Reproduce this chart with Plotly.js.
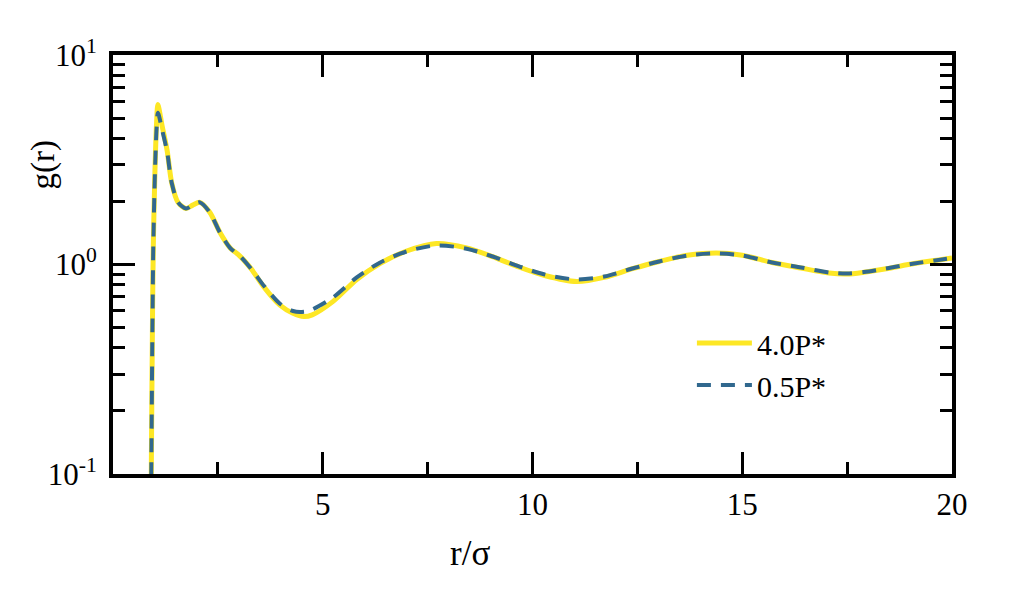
<!DOCTYPE html>
<html>
<head>
<meta charset="utf-8">
<script src="https://cdn.plot.ly/plotly-3.0.1.min.js"></script>
<style>html,body{margin:0;padding:0;background:#fff;}#chart{width:1011px;height:599px;}</style>
</head>
<body>
<div id="chart"></div>
<script>
// r/sigma grid
const r = [0.88, 0.90, 0.92, 0.94, 0.96, 1.0, 1.04, 1.07, 1.17, 1.29, 1.40, 1.55, 1.74, 1.9, 2.07, 2.31, 2.55, 2.79, 3.02, 3.3, 3.6, 3.98, 4.29, 4.55, 4.75, 5.24, 5.81, 6.36, 7.0, 7.71, 8.43, 9.05, 9.69, 10.29, 11.05, 11.71, 12.38, 13.02, 13.69, 14.38, 15.0, 15.71, 16.4, 17.07, 17.5, 17.9, 18.43, 19.1, 19.76, 20];
// g(r) at 4.0P*
const gHigh = [0.02, 0.05, 0.16, 0.5, 1.2, 2.8, 4.8, 5.8, 4.6, 3.5, 2.45, 1.98, 1.85, 1.92, 1.98, 1.77, 1.42, 1.2, 1.1, 0.95, 0.78, 0.64, 0.585, 0.564, 0.575, 0.665, 0.848, 1.01, 1.16, 1.26, 1.2, 1.09, 0.97, 0.886, 0.829, 0.868, 0.955, 1.034, 1.106, 1.135, 1.108, 1.022, 0.962, 0.91, 0.9, 0.918, 0.955, 1.01, 1.057, 1.075];
// g(r) at 0.5P*
const gLow = [0.02, 0.05, 0.16, 0.5, 1.2, 2.75, 4.5, 5.3, 4.4, 3.45, 2.45, 1.98, 1.85, 1.92, 1.98, 1.77, 1.42, 1.2, 1.1, 0.95, 0.79, 0.65, 0.6, 0.595, 0.61, 0.695, 0.867, 1.02, 1.154, 1.233, 1.19, 1.092, 0.978, 0.896, 0.848, 0.876, 0.957, 1.034, 1.104, 1.129, 1.104, 1.022, 0.968, 0.916, 0.905, 0.92, 0.957, 1.011, 1.057, 1.075];
const seriesNames = ["4.0P*", "0.5P*"];
const xTickVals = [5, 10, 15, 20];
const yTickVals = [0.1, 1, 10];
const yTickText = ["10<sup>-1</sup>", "10<sup>0</sup>", "10<sup>1</sup>"];

const font = "Liberation Serif";
const traces = [
  {x: r, y: gHigh, name: seriesNames[0], mode: "lines",
   line: {color: "#FDE725", width: 5, shape: "spline", smoothing: 0.8}},
  {x: r, y: gLow, name: seriesNames[1], mode: "lines",
   line: {color: "#31688E", width: 4, dash: "14px,10px", shape: "spline", smoothing: 0.8}}
];
const axisCommon = {
  showline: true, linecolor: "black", linewidth: 4, mirror: "allticks",
  ticks: "inside", ticklen: 22, tickwidth: 3, tickcolor: "black",
  showgrid: false, zeroline: false,
  tickfont: {family: font, size: 31, color: "black"}
};
const layout = {
  width: 1011, height: 599,
  margin: {l: 113, r: 59, t: 55, b: 125},
  paper_bgcolor: "white", plot_bgcolor: "white",
  font: {family: font, color: "black"},
  showlegend: true,
  legend: {x: 0.69, y: 0.375, xanchor: "left", yanchor: "top", bgcolor: "rgba(0,0,0,0)",
           font: {family: font, size: 30, color: "black"}, tracegroupgap: 0, itemwidth: 55},
  xaxis: Object.assign({}, axisCommon, {
    range: [0, 20], tickmode: "array", tickvals: xTickVals,
    minor: {ticks: "inside", ticklen: 12, tickwidth: 3, tickcolor: "black", dtick: 2.5, tick0: 0}
  }),
  yaxis: Object.assign({}, axisCommon, {
    type: "log", range: [-1, 1], tickmode: "array", tickvals: yTickVals, ticktext: yTickText,
    ticklabelstandoff: 6,
    minor: {ticks: "inside", ticklen: 12, tickwidth: 3, tickcolor: "black", dtick: "D1"}
  }),
  annotations: [
    {text: "g(r)", xref: "paper", yref: "paper", x: -0.083, y: 0.737, showarrow: false,
     textangle: -90, xanchor: "center", yanchor: "middle", font: {family: font, size: 33, color: "black"}},
    {text: "r/σ", xref: "paper", yref: "paper", x: 0.4255, y: -0.189, showarrow: false,
     xanchor: "center", yanchor: "middle", font: {family: font, size: 35, color: "black"}}
  ]
};
Plotly.newPlot("chart", traces, layout, {displayModeBar: false, staticPlot: true});
</script>
</body>
</html>
